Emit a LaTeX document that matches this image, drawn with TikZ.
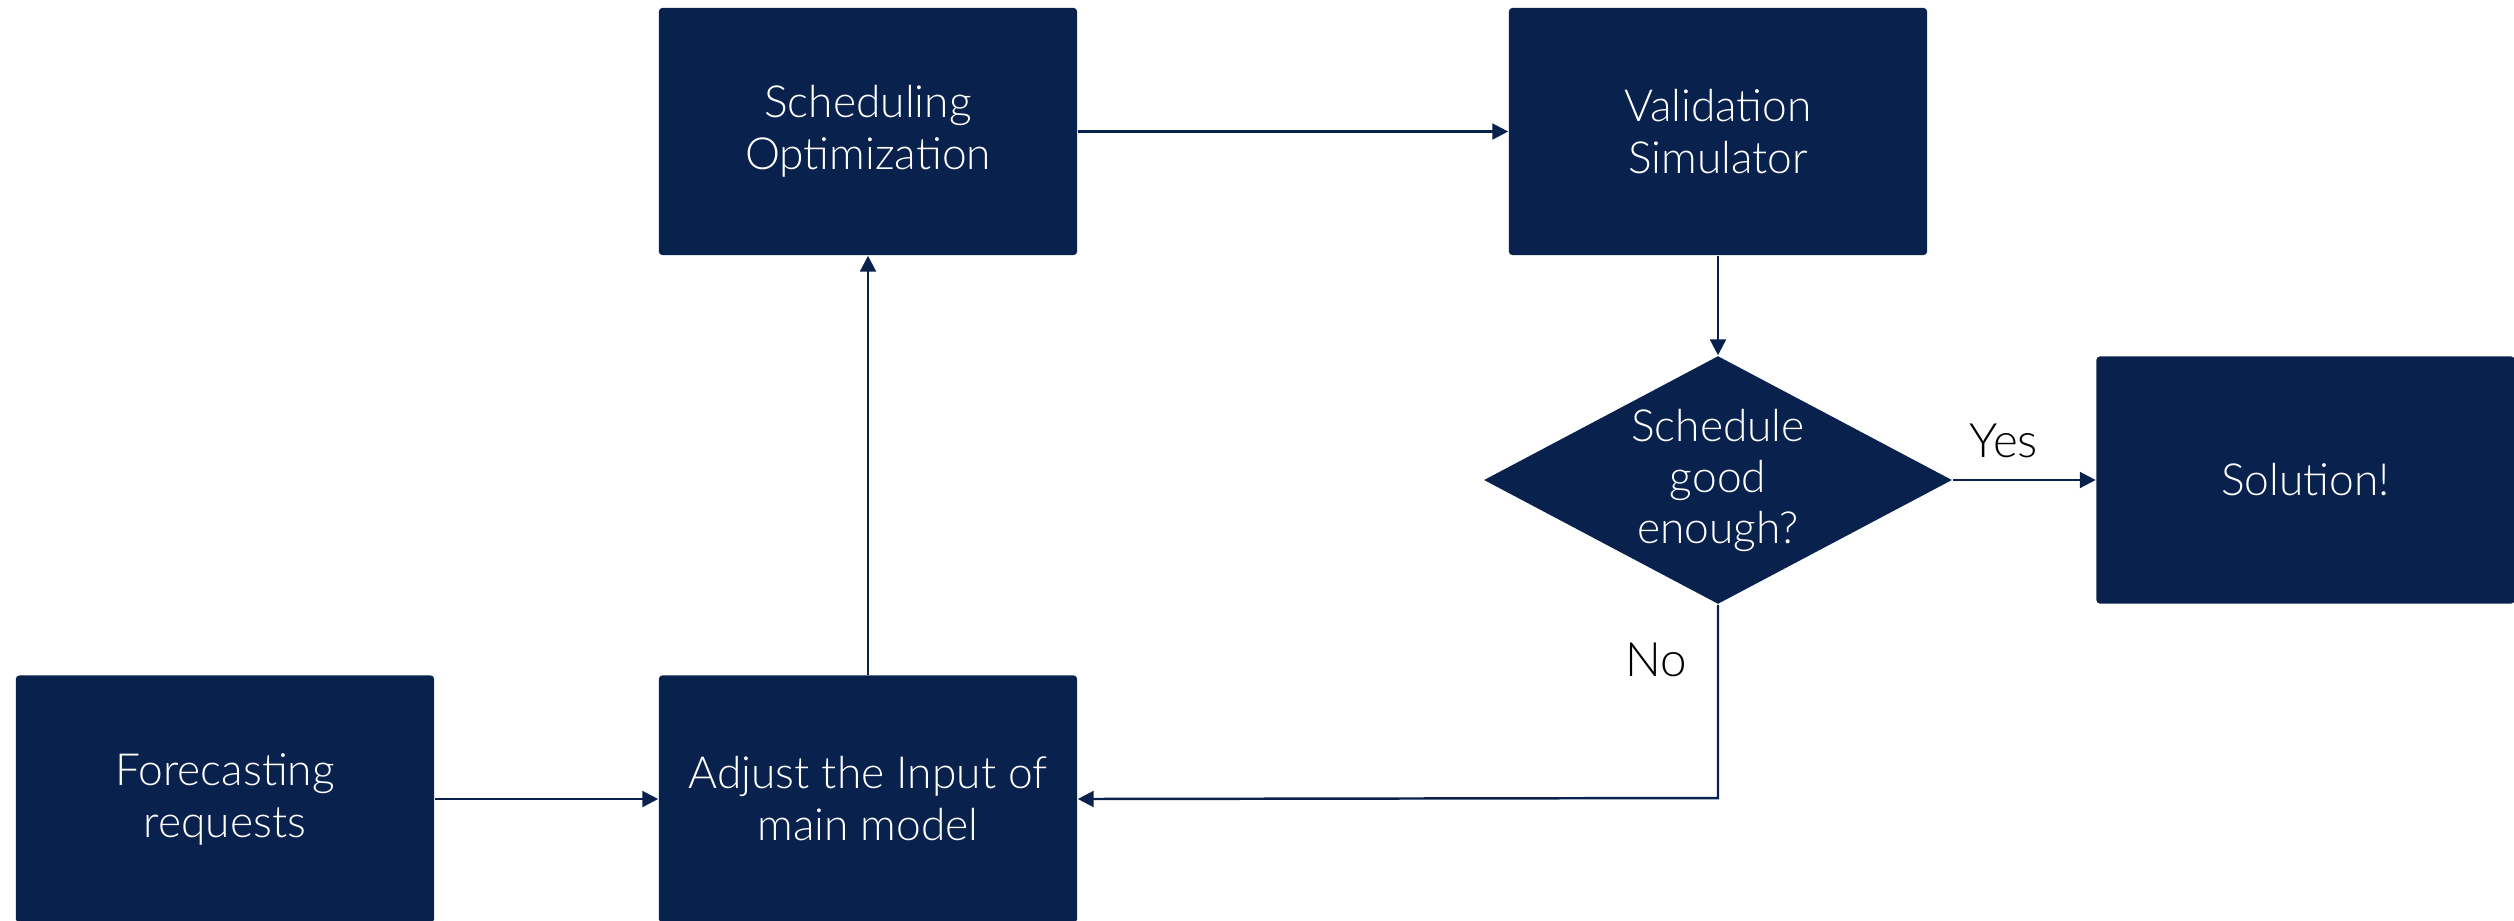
\documentclass[tikz,border=0pt]{standalone}
\usepackage{fontspec}
\setmainfont{Lato}[UprightFont={* Light}]
\usetikzlibrary{shapes.geometric,arrows.meta}
\definecolor{navy}{HTML}{08214D}
\tikzset{
  x=0.01cm, y=-0.01cm,
  box/.style={fill=navy, draw=none, rounded corners=1pt, minimum width=4.18cm, minimum height=2.47cm, inner sep=0pt, text=white, align=center, font=\fontsize{12.6}{14.8}\selectfont},
  decision/.style={diamond, fill=navy, draw=none, aspect=1.887, minimum width=4.68cm, minimum height=2.48cm, inner sep=0pt, text=white, align=center, font=\fontsize{12.6}{14.5}\selectfont},
  conn/.style={draw=navy, line width=0.7pt, -{Triangle[length=4.5pt,width=4.5pt]}},
  lbl/.style={text=black, font=\fontsize{13.5}{15}\selectfont, inner sep=0pt}
}
\begin{document}
\begin{tikzpicture}
\useasboundingbox (0,0) rectangle (2514,920);
\node[box] (opt) at (868,131.5) {Scheduling\\Optimization};
\node[box] (sim) at (1718,131.5) {Validation\\Simulator};
\node[decision] (dec) at (1718,480) {Schedule\\good\\enough?};
\node[box] (sol) at (2305.5,480) {Solution!};
\node[box] (fc) at (225,799) {Forecasting\\requests};
\node[box] (adj) at (868,799) {Adjust the Input of\\main model};
\coordinate (corner) at (1718,798);
\draw[conn] (opt.east) -- (sim.west);
\draw[conn] (sim.south) -- (dec.north);
\draw[conn] (dec.east) -- (sol.west);
\draw[conn] (fc.east) -- (adj.west);
\draw[conn] (adj.north) -- (opt.south);
\draw[conn] (dec.south) -- (corner) -- (adj.east);
\node[lbl] (yes) at (2004,441) {Yes};
\node[lbl] (no) at (1656,660) {No};
\end{tikzpicture}
\end{document}
